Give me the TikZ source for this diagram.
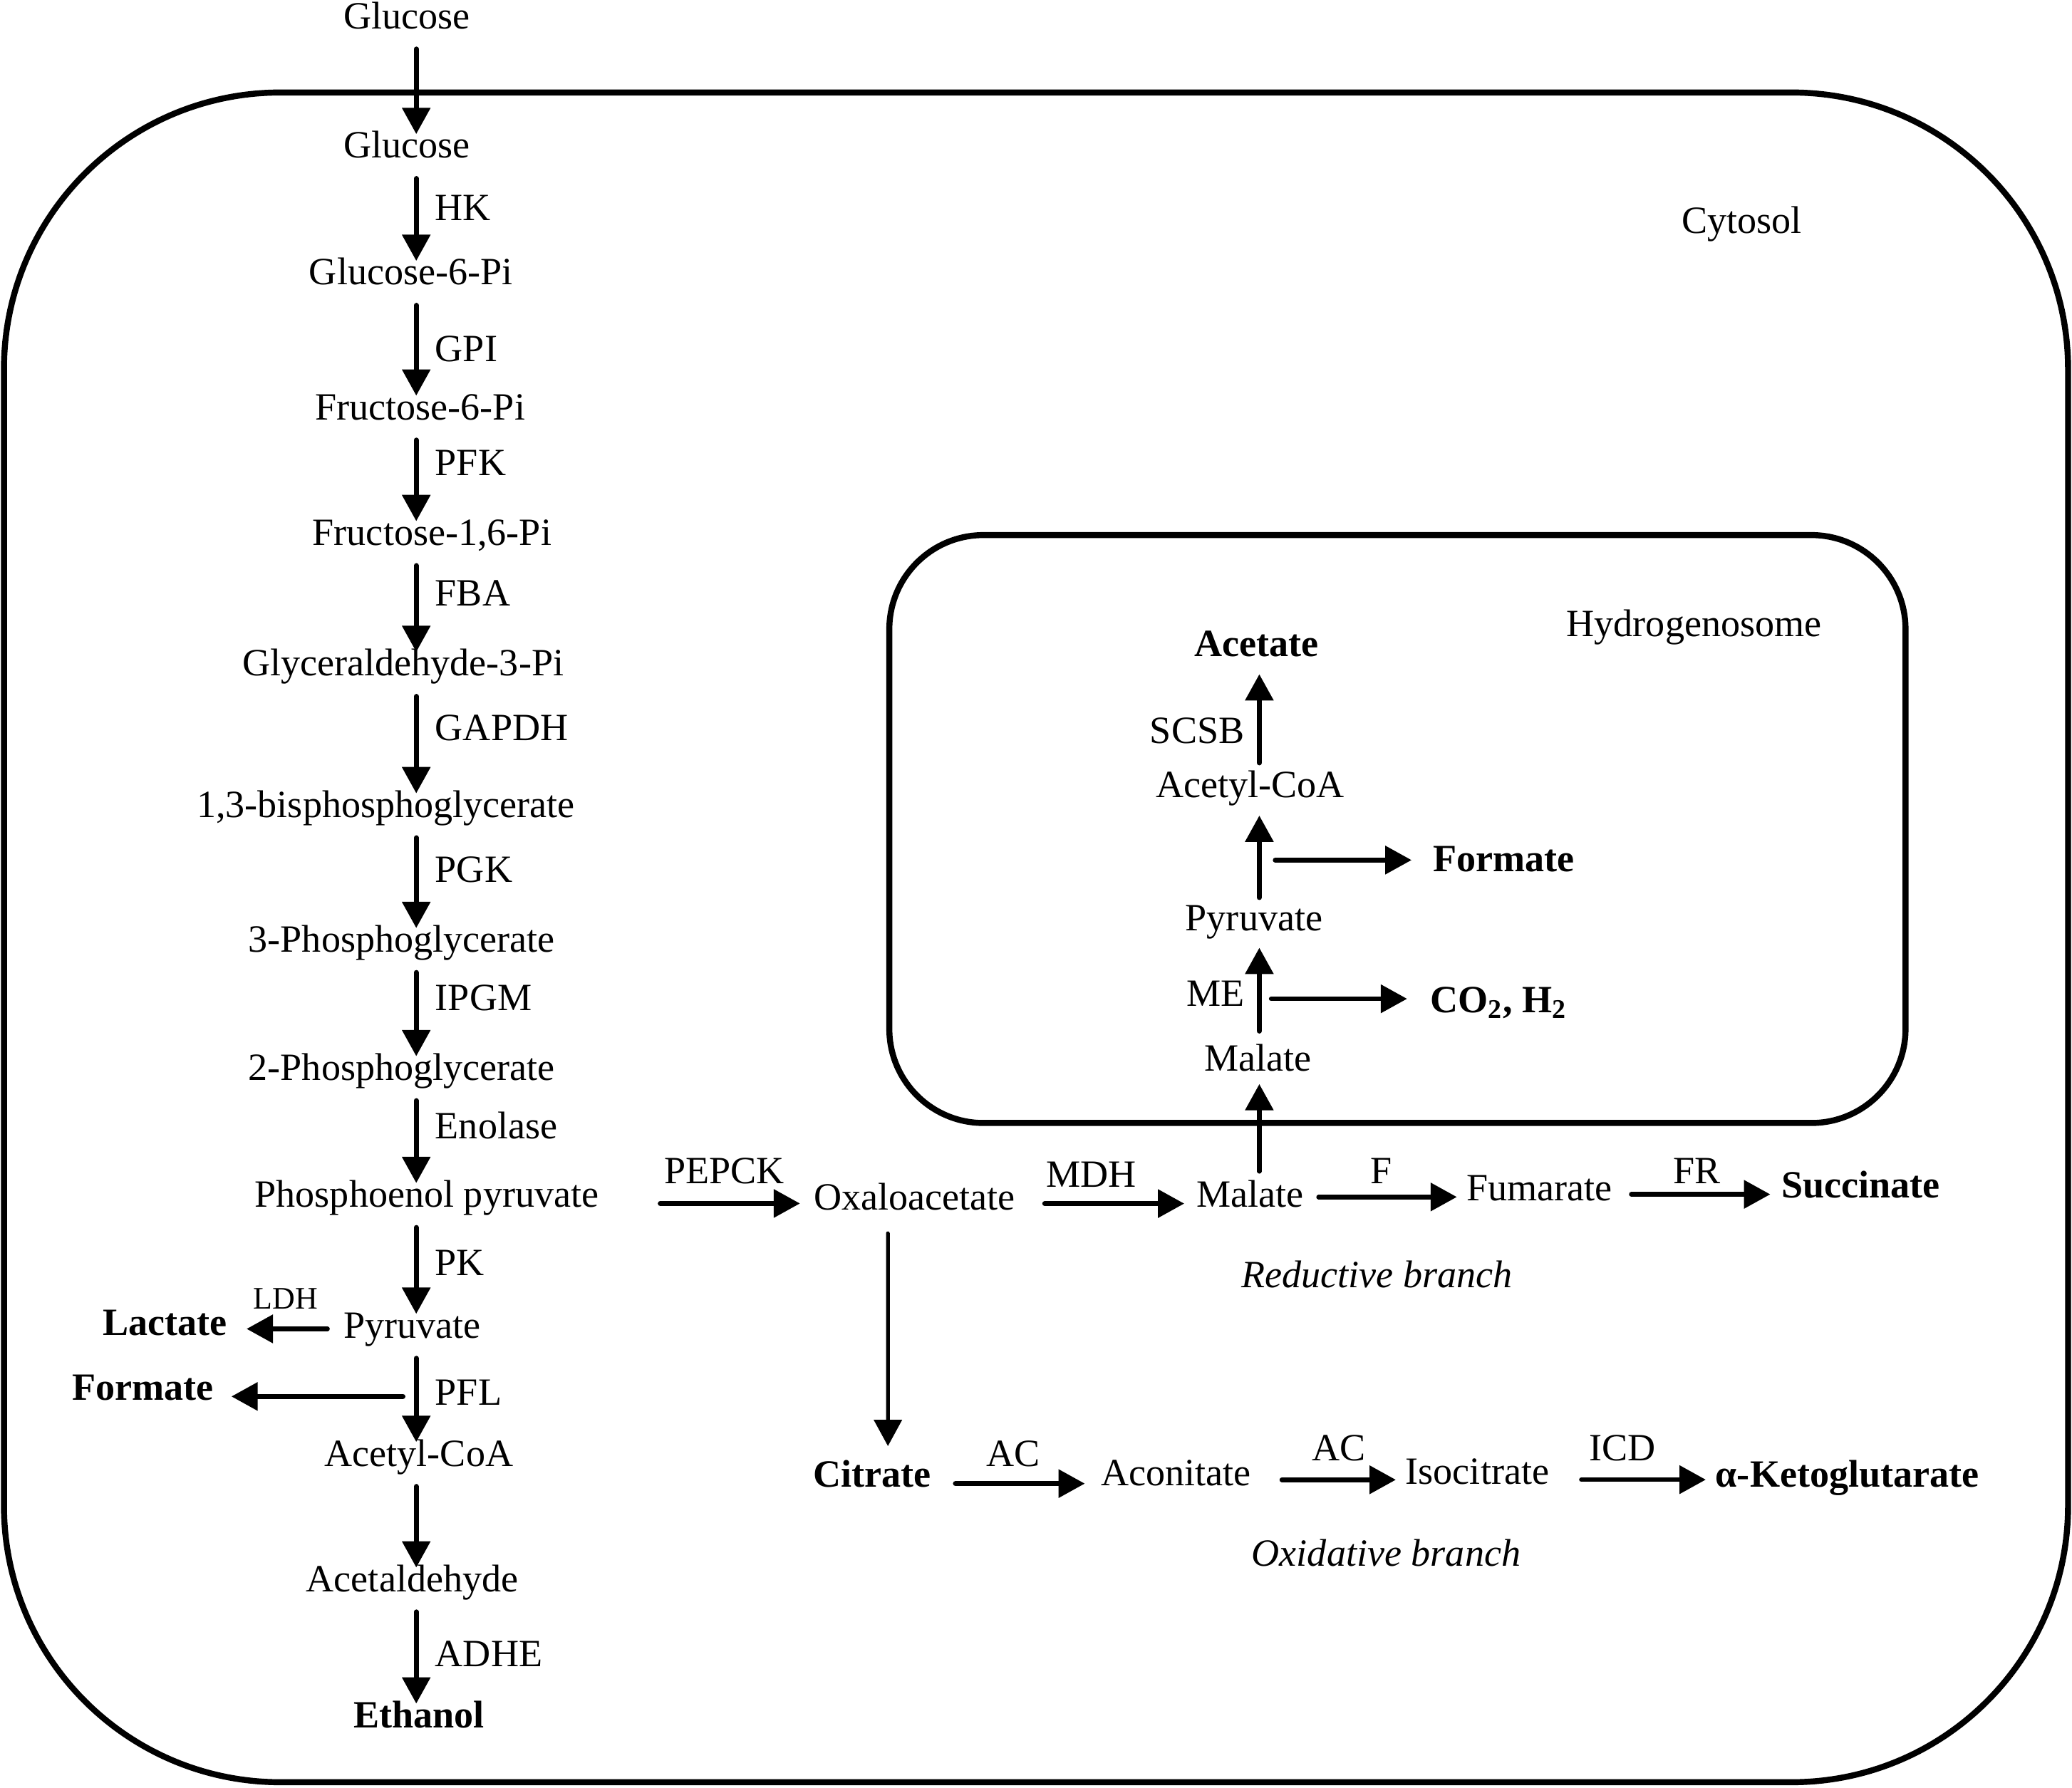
\documentclass[tikz,border=0pt]{standalone}
\usepackage{fontspec}
\setmainfont{Liberation Serif}
\usetikzlibrary{arrows.meta}
\begin{document}
\begin{tikzpicture}[x=0.018546cm,y=-0.018546cm,
  txt/.style={inner sep=0pt,text height=10.2pt,text depth=0pt,font=\fontsize{15.4}{18}\selectfont},
  btxt/.style={txt,font=\fontsize{15.4}{18}\selectfont\bfseries},
  itxt/.style={txt,font=\fontsize{15.4}{18}\selectfont\itshape},
  stxt/.style={inner sep=0pt,text height=8.3pt,text depth=0pt,font=\fontsize{12.5}{15}\selectfont},
  enz/.style={txt,anchor=west},
  arr/.style={-{Triangle[width=11pt,length=10.5pt]},line width=1.9pt,line cap=round},
  garr/.style={arr,shorten <=7.9pt,shorten >=-0.8pt},
  harr/.style={arr},
  thinarr/.style={arr,line width=1.5pt},
  membrane/.style={draw,line width=2.4pt}]
\useasboundingbox (0,0) rectangle (1568,1353);
% compartments
\draw[membrane,rounded corners=3.88cm] (3,70) rectangle (1565,1349);
\draw[membrane,rounded corners=1.32cm] (673,405) rectangle (1442,850);
\node[txt] (cyto) at (1318,167) {Cytosol};
\node[txt] (hydro) at (1282,472) {Hydrogenosome};
% glycolysis
\coordinate (ax) at (315,0);
\node[txt] (g0) at (308,12) {Glucose};
\node[txt] (g1) at (308,110) {Glucose};
\node[txt] (g2) at (311,206) {Glucose-6-Pi};
\node[txt] (g3) at (318,308) {Fructose-6-Pi};
\node[txt] (g4) at (327,403) {Fructose-1,6-Pi};
\node[txt] (g5) at (305,502) {Glyceraldehyde-3-Pi};
\node[txt] (g6) at (292,609) {1,3-bisphosphoglycerate};
\node[txt] (g7) at (304,711) {3-Phosphoglycerate};
\node[txt] (g8) at (304,808) {2-Phosphoglycerate};
\node[txt] (g9) at (323,904) {Phosphoenol pyruvate};
\node[txt] (g10) at (312,1003) {Pyruvate};
\node[txt] (g11) at (317,1100) {Acetyl-CoA};
\node[txt] (g12) at (312,1195) {Acetaldehyde};
\node[btxt] (g13) at (317,1298) {Ethanol};
\node[enz] (hk) at (329,157) {HK};
\node[enz] (gpi) at (329,264) {GPI};
\node[enz] (pfk) at (329,350) {PFK};
\node[enz] (fba) at (329,449) {FBA};
\node[enz] (gapdh) at (329,551) {GAPDH};
\node[enz] (pgk) at (329,658) {PGK};
\node[enz] (ipgm) at (329,755) {IPGM};
\node[enz] (eno) at (329,852) {Enolase};
\node[enz] (pk) at (329,956) {PK};
\node[enz] (pfl) at (329,1054) {PFL};
\node[enz] (adhe) at (329,1252) {ADHE};
\foreach \a/\b in {g0/g1,g1/g2,g2/g3,g3/g4,g4/g5,g5/g6,g6/g7,g7/g8,g8/g9,g9/g10,g10/g11,g11/g12,g12/g13}
  \draw[garr] (\a.south -| ax) -- (\b.north -| ax);
% side products of pyruvate
\node[btxt] (lac) at (125,1001) {Lactate};
\node[stxt] (ldh) at (216,983) {LDH};
\node[btxt] (forml) at (108,1050) {Formate};
\draw[arr,shorten <=6.3pt,shorten >=7.5pt] ([yshift=-1.5pt]g10.west) -- ([yshift=-1.5pt]g10.west -| lac.east);
\coordinate (pflS) at (305,1057);
\draw[arr,shorten >=7pt] (pflS) -- (pflS -| forml.east);
% reductive branch
\node[txt] (oxa) at (692,906) {Oxaloacetate};
\node[txt] (mal) at (946,904) {Malate};
\node[txt] (fum) at (1165,899) {Fumarate};
\node[btxt] (suc) at (1408,897) {Succinate};
\node[txt] (pepck) at (548,886) {PEPCK};
\node[txt] (mdh) at (826,889) {MDH};
\node[txt] (fl) at (1045,886) {F};
\node[txt] (fr) at (1284,886) {FR};
\node[itxt] (red) at (1042,965) {Reductive branch};
\draw[harr,shorten <=24.3pt,shorten >=5.3pt] ([yshift=-2.6pt]oxa.west -| g9.east) -- ([yshift=-2.6pt]oxa.west);
\draw[harr,shorten <=11.6pt,shorten >=4.7pt] ([yshift=-3.7pt]mal.west -| oxa.east) -- ([yshift=-3.7pt]mal.west);
\draw[harr,shorten <=5.8pt,shorten >=3.7pt] ([yshift=-3.7pt]fum.west -| mal.east) -- ([yshift=-3.7pt]fum.west);
\draw[harr,shorten <=7.4pt,shorten >=4.2pt] ([yshift=-3.7pt]suc.west -| fum.east) -- ([yshift=-3.7pt]suc.west);
% oxidative branch
\node[btxt] (cit) at (660,1116) {Citrate};
\node[txt] (aco) at (890,1115) {Aconitate};
\node[txt] (iso) at (1118,1114) {Isocitrate};
\node[btxt] (akg) at (1398,1116) {α-Ketoglutarate};
\node[txt] (ac1) at (767,1100) {AC};
\node[txt] (ac2) at (1013,1096) {AC};
\node[txt] (icd) at (1228,1096) {ICD};
\node[itxt] (oxi) at (1049,1176) {Oxidative branch};
\draw[thinarr,shorten <=9.2pt,shorten >=6pt] ([xshift=-10.6pt]oxa.south) -- ([xshift=6.3pt]cit.north);
\draw[harr,shorten <=9.5pt,shorten >=6.3pt] ([yshift=-4.2pt]aco.west -| cit.east) -- ([yshift=-4.2pt]aco.west);
\draw[harr,shorten <=12.1pt,shorten >=3.7pt] ([yshift=-3.2pt]iso.west -| aco.east) -- ([yshift=-3.2pt]iso.west);
\draw[harr,shorten <=12.7pt,shorten >=3.7pt] ([yshift=-2.1pt]akg.west -| iso.east) -- ([yshift=-2.1pt]akg.west);
% hydrogenosome
\node[btxt] (ace) at (951,487) {Acetate};
\node[txt] (hacoa) at (946,594) {Acetyl-CoA};
\node[txt] (hpyr) at (949,695) {Pyruvate};
\node[txt] (hmal) at (952,801) {Malate};
\node[btxt] (hform) at (1138,650) {Formate};
\node[btxt] (co2) at (1134,757) {CO\textsubscript{2}, H\textsubscript{2}};
\node[txt,anchor=east] (scsb) at (942,553) {SCSB};
\node[txt,anchor=east] (me) at (942,752) {ME};
\coordinate (hx) at (953,0);
\draw[arr,shorten <=5.5pt,shorten >=6.5pt] (hmal.north -| hx) -- (hpyr.south -| hx);
\draw[arr,shorten <=2.9pt,shorten >=7pt] (hpyr.north -| hx) -- (hacoa.south -| hx);
\draw[arr,shorten <=3.4pt,shorten >=7pt] (hacoa.north -| hx) -- (ace.south -| hx);
\draw[arr,shorten <=3.9pt,shorten >=5pt] (mal.north -| hx) -- (hmal.south -| hx);
\coordinate (formS) at (965,651);
\draw[arr,shorten >=8.4pt] (formS) -- (formS -| hform.west);
\coordinate (co2S) at (962,756);
\draw[arr,shorten >=9pt] (co2S) -- (co2S -| co2.west);
\end{tikzpicture}
\end{document}
